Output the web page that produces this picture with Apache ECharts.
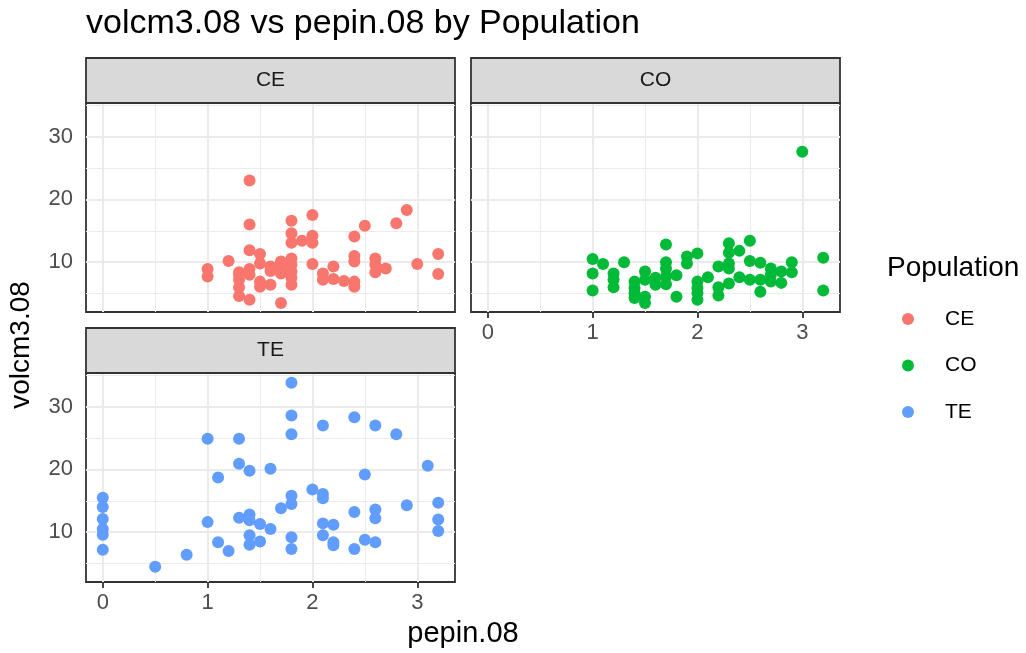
<!DOCTYPE html>
<html>
<head>
<meta charset="utf-8">
<script src="https://cdn.jsdelivr.net/npm/echarts@6/dist/echarts.min.js"></script>
<style>html,body{margin:0;padding:0;background:#fff}#c{width:1026px;height:653px}</style>
</head>
<body>
<div id="c"></div>
<script>
// ---- data (pepin.08, volcm3.08) ----
const populations = ['CE', 'CO', 'TE'];
const colors = ['#F8766D', '#00BA38', '#619CFF'];

const ceX = [1.4,1.4,2.0,1.8,2.9,2.8,2.5,2.4,1.8,1.8,1.9,2.0,2.0,1.4,1.2,1.5,1.5,1.0,1.0,1.3,1.3,1.3,1.3,1.4,1.4,1.4,1.5,1.5,1.6,1.6,1.7,1.7,1.7,1.7,1.8,1.8,1.8,1.8,1.8,2.0,2.1,2.1,2.2,2.2,2.3,2.4,2.4,2.4,2.4,2.6,2.6,2.6,2.7,3.0,3.2,3.2,1.3,1.6,1.7];
const ceY = [23.0,16.0,17.5,16.6,18.3,16.2,15.8,14.1,14.6,13.1,13.4,14.2,13.1,11.9,10.2,11.3,9.8,8.9,7.7,8.4,7.2,6.0,4.6,8.9,8.0,4.0,6.9,6.1,9.3,6.4,3.5,10.1,9.3,8.2,10.6,9.6,8.5,7.5,6.4,9.7,8.2,7.2,9.3,7.3,7.0,11.0,10.1,6.9,6.1,10.6,9.6,8.4,9.0,9.7,11.3,8.1,8.0,8.6,9.8];

const coX = [3.0,3.2,3.2,1.0,1.0,1.0,1.1,1.2,1.2,1.2,1.3,1.4,1.4,1.4,1.4,1.5,1.5,1.5,1.5,1.6,1.6,1.7,1.7,1.7,1.7,1.7,1.8,1.8,1.9,1.9,2.0,2.0,2.0,2.0,2.0,2.1,2.2,2.2,2.2,2.3,2.3,2.3,2.3,2.3,2.4,2.4,2.5,2.5,2.5,2.6,2.6,2.6,2.7,2.7,2.7,2.8,2.8,2.9,2.9];
const coY = [27.6,10.7,5.5,10.5,8.2,5.5,9.7,8.2,7.2,6.0,10.0,6.9,5.9,5.1,4.3,8.5,7.2,4.5,3.5,7.5,6.4,12.8,10.0,9.0,7.7,6.5,7.9,4.5,10.9,9.8,11.4,6.9,5.9,5.1,4.0,7.6,9.3,6.0,4.7,13.0,11.5,9.8,9.0,6.6,11.8,7.6,13.4,10.2,7.2,9.9,7.2,5.3,9.0,8.0,6.9,8.5,6.7,10.0,8.4];

const teX = [1.8,1.8,1.8,2.4,2.1,2.6,2.8,1.0,1.3,1.3,1.4,1.6,1.1,3.1,2.5,2.0,2.1,2.1,1.8,1.8,1.7,2.9,3.2,3.2,3.2,2.4,2.6,2.6,0,0,0,0,0,0,0.5,0.8,1.0,1.1,1.2,1.3,1.4,1.4,1.4,1.4,1.5,1.5,1.6,1.8,1.8,2.1,2.1,2.2,2.2,2.2,2.4,2.5,2.6];
const teY = [33.8,28.6,25.6,28.3,27.0,27.0,25.6,24.9,24.9,20.9,19.8,20.1,18.7,20.6,19.2,16.8,16.1,15.4,15.8,14.5,13.8,14.3,14.7,12.0,10.2,13.2,13.6,12.2,15.5,14.0,12.1,10.5,9.6,7.2,4.5,6.4,11.6,8.4,7.0,12.3,12.8,11.9,9.5,8.0,11.3,8.5,10.5,9.2,7.3,11.4,9.5,11.2,8.4,7.9,7.3,8.8,8.4];

const xTicks = [0, 1, 2, 3];
const xMinor = [0.5, 1.5, 2.5];
const yTicks = [10, 20, 30];
const yMinor = [5, 15, 25, 35];

// ---- layout ----
const FONT = "'Liberation Sans', Arial, Helvetica, sans-serif";
const W = 369, H = 209;
const panels = [
  {name: 'CE', left: 86, top: 103, showX: false, showY: true},
  {name: 'CO', left: 471, top: 103, showX: true, showY: false},
  {name: 'TE', left: 86, top: 373, showX: true, showY: true}
];
const xs = [ceX, coX, teX], ys = [ceY, coY, teY];

const grids = [], xAxes = [], yAxes = [], series = [], graphics = [];
panels.forEach((p, i) => {
  grids.push({left: p.left, top: p.top, width: W, height: H, show: true,
    backgroundColor: '#fff', borderColor: '#333333', borderWidth: 1.8, containLabel: false});
  xAxes.push({type: 'value', gridIndex: i, min: -0.16, max: 3.36,
    axisLine: {show: false}, splitLine: {show: false},
    axisTick: {show: p.showX, customValues: xTicks, length: 6, lineStyle: {color: '#333333', width: 1.8}},
    axisLabel: {show: p.showX, customValues: xTicks, margin: 10, color: '#4D4D4D', fontSize: 22, fontFamily: FONT}});
  yAxes.push({type: 'value', gridIndex: i, min: 2.06, max: 35.36,
    axisLine: {show: false}, splitLine: {show: false},
    axisTick: {show: p.showY, customValues: yTicks, length: 6, lineStyle: {color: '#333333', width: 1.8}},
    axisLabel: {show: p.showY, customValues: yTicks, margin: 13, color: '#4D4D4D', fontSize: 22, fontFamily: FONT}});
  const ml = [];
  xMinor.forEach(v => ml.push({xAxis: v, lineStyle: {color: '#EBEBEB', width: 1, type: 'solid'}}));
  yMinor.forEach(v => ml.push({yAxis: v, lineStyle: {color: '#EBEBEB', width: 1, type: 'solid'}}));
  xTicks.forEach(v => ml.push({xAxis: v, lineStyle: {color: '#EBEBEB', width: 2, type: 'solid'}}));
  yTicks.forEach(v => ml.push({yAxis: v, lineStyle: {color: '#EBEBEB', width: 2, type: 'solid'}}));
  series.push({type: 'scatter', xAxisIndex: i, yAxisIndex: i, z: 1, silent: true,
    data: [[0, 10]], symbolSize: 0, itemStyle: {opacity: 0},
    markLine: {silent: true, symbol: ['none', 'none'], label: {show: false}, animation: false, z: 1,
      emphasis: {disabled: true}, data: ml}});
  series.push({name: populations[i], type: 'scatter', xAxisIndex: i, yAxisIndex: i, z: 3,
    symbol: 'circle', symbolSize: 12, itemStyle: {color: colors[i], opacity: 1},
    emphasis: {disabled: true},
    data: xs[i].map((x, k) => [x, ys[i][k]])});
  // strip
  graphics.push({type: 'rect', shape: {x: p.left, y: p.top - 45, width: W, height: 45},
    style: {fill: '#D9D9D9', stroke: '#333333', lineWidth: 1.8}, z: 10});
  graphics.push({type: 'text', x: p.left + W / 2, y: p.top - 22.5,
    style: {text: p.name, fill: '#1A1A1A', font: '21px ' + FONT, textAlign: 'center', textVerticalAlign: 'middle'}, z: 11});
});

graphics.push({type: 'text', x: 86, y: 24,
  style: {text: 'volcm3.08 vs pepin.08 by Population', fill: '#000', font: '34px ' + FONT, textAlign: 'left', textVerticalAlign: 'middle'}});
graphics.push({type: 'text', x: 463, y: 634,
  style: {text: 'pepin.08', fill: '#000', font: '29px ' + FONT, textAlign: 'center', textVerticalAlign: 'middle'}});
graphics.push({type: 'text', x: 21, y: 345, rotation: Math.PI / 2,
  style: {text: 'volcm3.08', fill: '#000', font: '28px ' + FONT, textAlign: 'center', textVerticalAlign: 'middle'}});
graphics.push({type: 'text', x: 887, y: 268,
  style: {text: 'Population', fill: '#000', font: '28px ' + FONT, textAlign: 'left', textVerticalAlign: 'middle'}});

const chart = echarts.init(document.getElementById('c'), null, {renderer: 'canvas'});
chart.setOption({
  animation: false,
  backgroundColor: '#fff',
  grid: grids, xAxis: xAxes, yAxis: yAxes, series: series,
  legend: {data: populations, orient: 'vertical', left: 902, top: 308, padding: 0,
    icon: 'circle', itemWidth: 12, itemHeight: 12, itemGap: 24.5, selectedMode: false,
    textStyle: {color: '#000', fontSize: 21, fontFamily: FONT, lineHeight: 22, padding: [0, 0, 0, 26]}},
  graphic: graphics
});
</script>
</body>
</html>
